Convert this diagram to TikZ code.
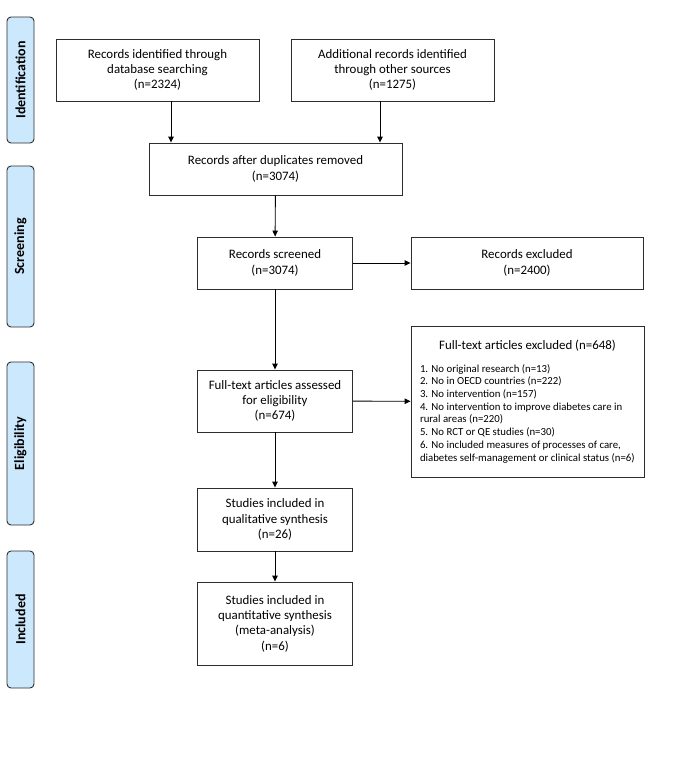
\documentclass[tikz,border=0pt]{standalone}
\usepackage{fontspec}
\setmainfont{Carlito}
\usetikzlibrary{arrows.meta, positioning}
\definecolor{stageblue}{RGB}{204, 232, 253}
\definecolor{boxgray}{RGB}{45, 45, 45}

\begin{document}
\begin{tikzpicture}[x=1pt, y=-1pt,
  flowbox/.style={draw=boxgray, line width=0.9pt, align=center, inner sep=2pt,
    font=\fontsize{12.9}{15.3}\selectfont},
  stagebar/.style={draw=boxgray, fill=stageblue, line width=0.9pt, rounded corners=4pt,
    rotate=90, minimum height=27pt, font=\fontsize{14}{16}\selectfont\bfseries},
  arr/.style={-{Triangle[length=6pt, width=5.5pt]}, line width=0.9pt}]
  \useasboundingbox[fill=white] (0,0) rectangle (683,780);

  % Stage bars on the left
  \node[stagebar, minimum width=126pt] (idbar) at (20.5, 80) {Identification};
  \node[stagebar, minimum width=161pt] (scbar) at (20.5, 246.5) {Screening};
  \node[stagebar, minimum width=163pt] (elbar) at (20.5, 443.5) {Eligibility};
  \node[stagebar, minimum width=137pt] (inbar) at (20.5, 619.5) {Included};

  % Identification
  \node[flowbox, minimum width=203pt, minimum height=62pt] (dbrec) at (157.5, 70)
    {Records identified through\\database searching\\(n=2324)};
  \node[flowbox, minimum width=203pt, minimum height=62pt] (othrec) at (392.5, 70)
    {Additional records identified\\through other sources\\(n=1275)};
  \node[flowbox, minimum width=253pt, minimum height=52pt] (dedup) at (275.5, 169)
    {Records after duplicates removed\\(n=3074)};

  % Screening
  \node[flowbox, minimum width=155pt, minimum height=52pt] (screen) at (275, 263)
    {Records screened\\(n=3074)};
  \node[flowbox, minimum width=232pt, minimum height=52pt] (screx) at (527, 263)
    {Records excluded\\(n=2400)};

  % Eligibility
  \node[flowbox, minimum width=155pt, minimum height=62pt] (fulltxt) at (275, 401)
    {Full-text articles assessed\\for eligibility\\(n=674)};
  \node[flowbox, minimum width=233pt, minimum height=151pt, align=left, inner sep=0pt] (ftex) at (527.5, 401.5)
    {\begin{minipage}{215pt}
      \centering Full-text articles excluded (n=648)\\[10pt]
      \raggedright\fontsize{10.8}{12.7}\selectfont
      1. No original research (n=13)\\
      2. No in OECD countries (n=222)\\
      3. No intervention (n=157)\\
      4. No intervention to improve diabetes care in rural areas (n=220)\\
      5. No RCT or QE studies (n=30)\\
      6. No included measures of processes of care, diabetes self-management or clinical status (n=6)
    \end{minipage}};

  % Included
  \node[flowbox, minimum width=155pt, minimum height=63pt] (qual) at (275, 519.5)
    {Studies included in\\qualitative synthesis\\(n=26)};
  \node[flowbox, minimum width=155pt, minimum height=83pt] (quant) at (275, 623.5)
    {Studies included in\\quantitative synthesis\\(meta-analysis)\\(n=6)};

  % Connectors
  \draw[arr] ([xshift=13.5pt]dbrec.south) -- ([xshift=13.5pt]dbrec.south |- dedup.north);
  \draw[arr] ([xshift=-12.5pt]othrec.south) -- ([xshift=-12.5pt]othrec.south |- dedup.north);
  \draw[arr] (dedup) -- (screen);
  \draw[arr] (screen) -- (screx);
  \draw[arr] (screen) -- (fulltxt);
  \draw[arr] (fulltxt) -- (ftex);
  \draw[arr] (fulltxt) -- (qual);
  \draw[arr] (qual) -- (quant);
\end{tikzpicture}
\end{document}
